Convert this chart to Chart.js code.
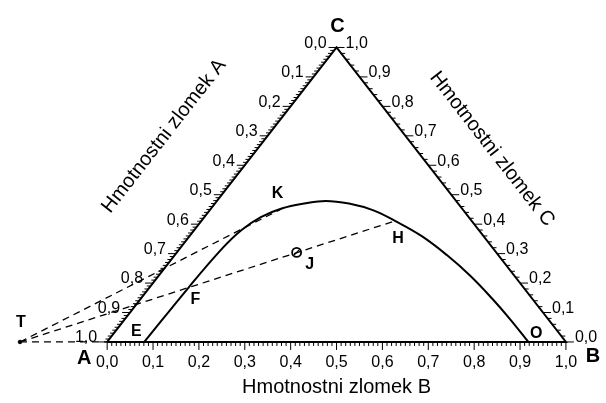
<!DOCTYPE html>
<html>
<head>
<meta charset="utf-8">
<script src="https://cdn.jsdelivr.net/npm/chart.js@4.4.1/dist/chart.umd.min.js"></script>
<style>
  body { margin: 0; background: #fff; }
  #wrap { width: 606px; height: 403px; }
</style>
</head>
<body>
<div id="wrap"><canvas id="chart" width="606" height="403"></canvas></div>
<script>
// binodal curve, ternary composition (mass fraction of B and C; A = 1 - B - C)
const curveB = [0.081, 0.085, 0.092, 0.103, 0.123, 0.155, 0.194, 0.237, 0.292, 0.357, 0.422, 0.505, 0.593, 0.680, 0.768, 0.841, 0.918];
const curveC = [0.000, 0.184, 0.316, 0.380, 0.424, 0.454, 0.470, 0.479, 0.470, 0.447, 0.411, 0.360, 0.295, 0.224, 0.145, 0.076, 0.000];

// named points (B, C)
const pointNames = ['T', 'E', 'F', 'J', 'K', 'H', 'O'];
const pointB = [-0.190, 0.081, 0.085, 0.261, 0.154, 0.422, 0.918];
const pointC = [0.000, 0.000, 0.184, 0.304, 0.452, 0.411, 0.000];

// dashed construction lines from T
const dashTo = ['K', 'H'];

// axis ticks
const tickValues = [0, 0.1, 0.2, 0.3, 0.4, 0.5, 0.6, 0.7, 0.8, 0.9, 1.0];
const tickLabels = ['0,0', '0,1', '0,2', '0,3', '0,4', '0,5', '0,6', '0,7', '0,8', '0,9', '1,0'];
const axisTitles = ['Hmotnostni zlomek A', 'Hmotnostni zlomek B', 'Hmotnostni zlomek C'];
const vertexNames = ['A', 'B', 'C'];

// ternary -> cartesian (triangle base 0..1, apex at (0.5, 1))
function tern(b, c) { return { x: b + c / 2, y: c }; }
function pt(name) { const i = pointNames.indexOf(name); return tern(pointB[i], pointC[i]); }

const FONT = 'Arial, "Liberation Sans", sans-serif';

const curve = curveB.map((b, i) => tern(b, curveC[i]));
const dashSets = dashTo.map(n => ({
  data: [pt('T'), pt(n)],
  showLine: true, borderColor: '#000', borderWidth: 1.3, borderDash: [7, 5],
  pointRadius: 0, fill: false
}));
dashSets.push({
  data: [pt('T'), tern(0, 0)],
  showLine: true, borderColor: '#000', borderWidth: 1.3, borderDash: [7, 5],
  pointRadius: 0, fill: false
});

const ternaryPlugin = {
  id: 'ternary',
  afterDatasetsDraw(chart) {
    const ctx = chart.ctx;
    const sx = chart.scales.x, sy = chart.scales.y;
    const P = p => [sx.getPixelForValue(p.x), sy.getPixelForValue(p.y)];
    ctx.save();
    ctx.strokeStyle = '#000';
    ctx.fillStyle = '#000';
    ctx.lineWidth = 1;
    // ticks
    for (let k = 0; k <= 100; k++) {
      const v = k / 100;
      const major = k % 10 === 0;
      const len = major ? 8 : 4;
      // bottom (B)
      let [x, y] = P(tern(v, 0));
      ctx.beginPath(); ctx.moveTo(x, y); ctx.lineTo(x, y + len); ctx.stroke();
      // left (A): A = v, C = 1 - v
      [x, y] = P(tern(0, 1 - v));
      ctx.beginPath(); ctx.moveTo(x, y); ctx.lineTo(x - len, y); ctx.stroke();
      // right (C): every 0.02
      if (k % 2 === 0) {
        [x, y] = P(tern(1 - v, v));
        ctx.beginPath(); ctx.moveTo(x, y); ctx.lineTo(x + len, y); ctx.stroke();
      }
    }
    // tick labels
    ctx.font = '16px ' + FONT;
    ctx.textBaseline = 'middle';
    tickValues.forEach((v, i) => {
      let [x, y] = P(tern(v, 0));
      ctx.textAlign = 'center';
      ctx.fillText(tickLabels[i], x, y + 21);
      [x, y] = P(tern(0, 1 - v));
      ctx.textAlign = 'right';
      ctx.fillText(tickLabels[i], x - 10, y - 4);
      [x, y] = P(tern(1 - v, v));
      ctx.textAlign = 'left';
      ctx.fillText(tickLabels[i], x + 9, y - 4);
    });
    // axis titles
    const [ax, ay] = P(tern(0, 0));
    const [bx, by] = P(tern(1, 0));
    const [cx, cy] = P(tern(0, 1));
    const ang = Math.atan2(ay - cy, cx - ax);
    ctx.font = '20px ' + FONT;
    ctx.textAlign = 'center';
    ctx.fillText(axisTitles[1], (ax + bx) / 2, by + 46);
    ctx.save();
    ctx.translate(164, 136); ctx.rotate(-ang);
    ctx.fillText(axisTitles[0], 0, 0);
    ctx.restore();
    ctx.save();
    ctx.translate(492, 149); ctx.rotate(ang);
    ctx.fillText(axisTitles[2], 0, 0);
    ctx.restore();
    // vertex names
    ctx.font = 'bold 20px ' + FONT;
    ctx.fillText(vertexNames[0], ax - 23, ay + 17);
    ctx.fillText(vertexNames[1], bx + 27, by + 15);
    ctx.fillText(vertexNames[2], cx + 1, cy - 21);
    // point labels
    const off = { T: [1, -19], E: [-8, -10], F: [7, 12], J: [13, 12], K: [-4, -15], H: [3, 18], O: [8, -8] };
    ctx.font = 'bold 16px ' + FONT;
    pointNames.forEach(n => {
      const [x, y] = P(pt(n));
      ctx.fillText(n, x + off[n][0], y + off[n][1]);
    });
    ctx.restore();
  }
};

new Chart(document.getElementById('chart'), {
  type: 'scatter',
  data: {
    datasets: [
      {
        data: [tern(0, 0), tern(1, 0), tern(0, 1), tern(0, 0)],
        showLine: true, borderColor: '#000', borderWidth: 2, pointRadius: 0, fill: false
      },
      {
        data: curve,
        showLine: true, borderColor: '#000', borderWidth: 2, pointRadius: 0,
        tension: 0.4, fill: false
      },
      ...dashSets,
      {
        data: [pt('J')],
        pointStyle: 'circle', pointRadius: 4.5, borderColor: '#000', borderWidth: 1.8, backgroundColor: 'rgba(0,0,0,0)'
      },
      {
        data: [pt('J')],
        pointStyle: 'line', pointRadius: 4, pointRotation: -45, borderColor: '#000', borderWidth: 1.3
      },
      {
        data: [pt('T')],
        pointStyle: 'circle', pointRadius: 1.8, borderColor: '#000', backgroundColor: '#000'
      }
    ]
  },
  options: {
    responsive: false,
    animation: false,
    layout: { padding: 0 },
    plugins: { legend: { display: false }, tooltip: { enabled: false } },
    scales: {
      x: { type: 'linear', display: false, min: -0.21985, max: 1.07364 },
      y: { type: 'linear', display: false, min: -0.18586, max: 1.13980 }
    }
  },
  plugins: [ternaryPlugin]
});
</script>
</body>
</html>
